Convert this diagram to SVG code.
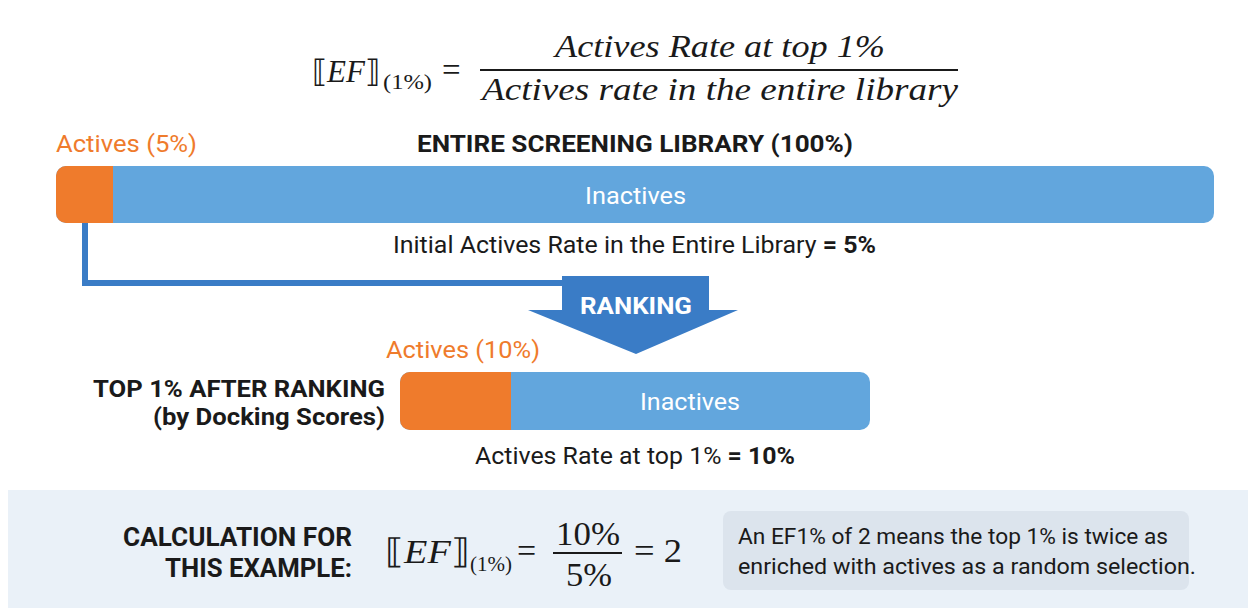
<svg xmlns="http://www.w3.org/2000/svg" width="1248" height="608" viewBox="0 0 1248 608">
<defs>
<style>
.sans{font-family:Roboto,"Liberation Sans",sans-serif;}
.math{font-family:"Liberation Serif","DejaVu Serif",serif;font-style:italic;fill:#1a1a1a;}
.mathup{font-family:"Liberation Serif","DejaVu Serif",serif;fill:#1a1a1a;}
.dark{fill:#1a1a1a;}
.orange{fill:#ef7b2c;}
.white{fill:#ffffff;}
.bold{font-weight:700;}
</style>
<clipPath id="bar1"><rect x="56" y="166" width="1158" height="57" rx="10"/></clipPath>
<clipPath id="bar2"><rect x="400" y="372" width="470" height="58" rx="10"/></clipPath>
</defs>
<rect width="1248" height="608" fill="#ffffff"/>

<g id="formula-top">
<text class="mathup" x="312" y="82" font-size="31">⟦<tspan class="math">EF</tspan>⟧</text>
<text class="mathup" x="383" y="89" font-size="22" textLength="49" lengthAdjust="spacingAndGlyphs">(1%)</text>
<text class="mathup" x="442" y="81" font-size="33">=</text>
<text class="math" x="720" y="57" font-size="31" text-anchor="middle" textLength="330" lengthAdjust="spacingAndGlyphs">Actives Rate at top 1%</text>
<line x1="480" y1="70" x2="958" y2="70" stroke="#1a1a1a" stroke-width="2"/>
<text class="math" x="720" y="100" font-size="31" text-anchor="middle" textLength="476" lengthAdjust="spacingAndGlyphs">Actives rate in the entire library</text>
</g>

<g id="connectors">
<path d="M85 222 V283 H570" fill="none" stroke="#3a7cc6" stroke-width="6"/>
</g>

<g id="library">
<text class="sans orange" x="56" y="152" font-size="24" textLength="141" lengthAdjust="spacingAndGlyphs">Actives (5%)</text>
<text class="sans dark bold" x="417" y="152" font-size="24" textLength="436" lengthAdjust="spacingAndGlyphs">ENTIRE SCREENING LIBRARY (100%)</text>
<g clip-path="url(#bar1)">
<rect x="56" y="166" width="1158" height="57" fill="#62a6dd"/>
<rect x="56" y="166" width="57" height="57" fill="#ef7b2c"/>
</g>
<text class="sans white" x="585" y="204" font-size="24" textLength="101" lengthAdjust="spacingAndGlyphs">Inactives</text>
<text class="sans dark" x="393" y="253" font-size="24" textLength="483" lengthAdjust="spacingAndGlyphs">Initial Actives Rate in the Entire Library <tspan class="bold">= 5%</tspan></text>
</g>

<g id="ranking">
<path d="M562 276 H709 V310 H738 L636 354 L528 310 H562 Z" fill="#3a7cc6"/>
<text class="sans white bold" x="580" y="314" font-size="24" textLength="112" lengthAdjust="spacingAndGlyphs">RANKING</text>
</g>

<g id="top1">
<text class="sans orange" x="386" y="358" font-size="24" textLength="154" lengthAdjust="spacingAndGlyphs">Actives (10%)</text>
<text class="sans dark bold" x="93" y="397" font-size="24" textLength="292" lengthAdjust="spacingAndGlyphs">TOP 1% AFTER RANKING</text>
<text class="sans dark bold" x="153" y="425" font-size="24" textLength="232" lengthAdjust="spacingAndGlyphs">(by Docking Scores)</text>
<g clip-path="url(#bar2)">
<rect x="400" y="372" width="470" height="58" fill="#62a6dd"/>
<rect x="400" y="372" width="111" height="58" fill="#ef7b2c"/>
</g>
<text class="sans white" x="640" y="410" font-size="24" textLength="100" lengthAdjust="spacingAndGlyphs">Inactives</text>
<text class="sans dark" x="475" y="464" font-size="24" textLength="320" lengthAdjust="spacingAndGlyphs">Actives Rate at top 1% <tspan class="bold">= 10%</tspan></text>
</g>

<g id="calculation">
<rect x="8" y="490" width="1240" height="118" fill="#eaf1f8"/>
<text class="sans dark bold" x="123" y="546" font-size="25" textLength="229" lengthAdjust="spacingAndGlyphs">CALCULATION FOR</text>
<text class="sans dark bold" x="165" y="577" font-size="25" textLength="187" lengthAdjust="spacingAndGlyphs">THIS EXAMPLE:</text>
<text class="mathup" x="385" y="563" font-size="34" textLength="85" lengthAdjust="spacingAndGlyphs">⟦<tspan class="math">EF</tspan>⟧</text>
<text class="mathup" x="470" y="571" font-size="22" textLength="42" lengthAdjust="spacingAndGlyphs">(1%)</text>
<text class="mathup" x="517" y="562" font-size="34">=</text>
<text class="mathup" x="556" y="545" font-size="34" textLength="64" lengthAdjust="spacingAndGlyphs">10%</text>
<line x1="553" y1="553" x2="622" y2="553" stroke="#1a1a1a" stroke-width="2"/>
<text class="mathup" x="566" y="586" font-size="34" textLength="46" lengthAdjust="spacingAndGlyphs">5%</text>
<text class="mathup" x="634" y="562" font-size="34" textLength="48" lengthAdjust="spacingAndGlyphs">= 2</text>
</g>

<g id="note">
<rect x="723" y="511" width="466" height="79" rx="8" fill="#dce4ed"/>
<text class="sans dark" x="738" y="544" font-size="22" textLength="430" lengthAdjust="spacingAndGlyphs">An EF1% of 2 means the top 1% is twice as</text>
<text class="sans dark" x="738" y="574" font-size="22" textLength="458" lengthAdjust="spacingAndGlyphs">enriched with actives as a random selection.</text>
</g>
</svg>
